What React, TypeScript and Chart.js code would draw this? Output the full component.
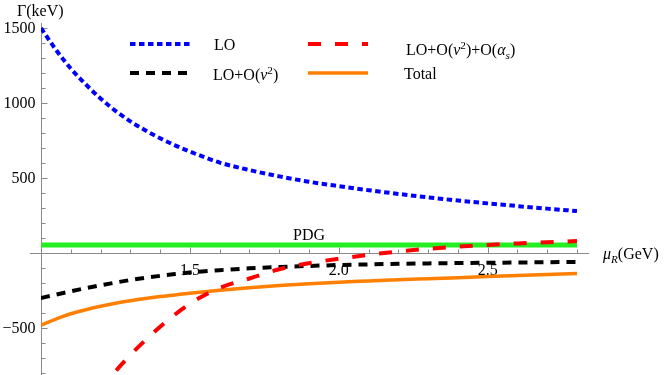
import React, { useEffect, useRef } from "react";
import { Chart, registerables } from "chart.js";
Chart.register(...registerables);

// renormalisation scale mu_R (GeV)
const muR = [1.0, 1.05, 1.1, 1.15, 1.2, 1.25, 1.3, 1.35, 1.4, 1.45, 1.5, 1.55, 1.6, 1.7, 1.8, 1.9, 2.0, 2.1, 2.2, 2.3, 2.4, 2.5, 2.6, 2.7, 2.8];
// Gamma (keV)
const lo = [1500, 1355, 1230, 1125, 1030, 948, 878, 818, 765, 718, 676, 638, 603, 553, 511, 475, 446, 419, 394, 371, 350, 331, 313, 296, 280];
const loV2 = [-300, -277, -255, -234, -215, -197, -180, -165, -152, -140, -130, -121, -114, -102, -93, -86, -80, -76, -72, -69, -67, -65, -63, -61, -60];
const loV2As = [null, null, null, null, -930, -790, -680, -582, -492, -410, -338, -280, -232, -170, -108, -68, -38, -12, 10, 28, 42, 54, 64, 72, 80];
const total = [-480, -440, -405, -378, -355, -335, -318, -303, -290, -279, -268, -258, -248, -231, -216, -204, -194, -186, -178, -171, -164, -157, -150, -143, -136];
const pdgValue = 54;
const pdgLabelAt = 1.9;

const xMin = 1.0;
const xMax = 2.8;
const yMin = -813;
const yMax = 1520;
const xTicks = [1.1, 1.2, 1.3, 1.4, 1.5, 1.6, 1.7, 1.8, 1.9, 2.0, 2.1, 2.2, 2.3, 2.4, 2.5, 2.6, 2.7, 2.8];
const xTickLabels = [1.5, 2.0, 2.5];
const yTicks = [-800, -700, -600, -500, -400, -300, -200, -100, 100, 200, 300, 400, 500, 600, 700, 800, 900, 1000, 1100, 1200, 1300, 1400, 1500];
const yTickLabels = [-500, 500, 1000, 1500];

type Run = { t: string; it?: boolean; sup?: boolean; sub?: boolean };
const legendLabels: Run[][] = [
  [{ t: "LO" }],
  [{ t: "LO+O(" }, { t: "v", it: true }, { t: "2", sup: true }, { t: ")" }],
  [{ t: "LO+O(" }, { t: "v", it: true }, { t: "2", sup: true }, { t: ")+O(" }, { t: "α", it: true }, { t: "s", it: true, sub: true }, { t: ")" }],
  [{ t: "Total" }],
];
const xTitle: Run[] = [{ t: "μ", it: true }, { t: "R", it: true, sub: true }, { t: "(GeV)" }];
const yTitle: Run[] = [{ t: "Γ(keV)" }];

const FONT = '"Liberation Serif", "Times New Roman", serif';

function drawRich(ctx: CanvasRenderingContext2D, x: number, y: number, runs: Run[], size: number) {
  let cx = x;
  for (const r of runs) {
    const s = r.sup || r.sub ? size * 0.7 : size;
    ctx.font = `${r.it ? "italic " : ""}${s}px ${FONT}`;
    const dy = r.sup ? -size * 0.4 : r.sub ? size * 0.25 : 0;
    ctx.fillText(r.t, cx, y + dy);
    cx += ctx.measureText(r.t).width;
  }
}

const near = (a: number, b: number) => Math.abs(a - b) < 1e-9;

const axesPlugin = {
  id: "mmaAxes",
  beforeDatasetsDraw(chart: any) {
    const { ctx, scales } = chart;
    const x = scales.x;
    const y = scales.y;
    const y0 = Math.round(y.getPixelForValue(0)) + 0.5;
    const x0 = Math.round(x.getPixelForValue(xMin)) + 0.5;
    ctx.save();
    ctx.strokeStyle = "#8a8a8a";
    ctx.lineWidth = 1;
    ctx.beginPath();
    ctx.moveTo(x.left - 11, y0);
    ctx.lineTo(x.right + 12, y0);
    ctx.moveTo(x0, y.top - 2);
    ctx.lineTo(x0, y.bottom);
    for (const v of xTicks) {
      const px = Math.round(x.getPixelForValue(v)) + 0.5;
      const len = xTickLabels.some((m) => near(m, v)) ? 6 : 4;
      ctx.moveTo(px, y0);
      ctx.lineTo(px, y0 - len);
    }
    for (const v of yTicks) {
      const py = Math.round(y.getPixelForValue(v)) + 0.5;
      const len = yTickLabels.some((m) => near(m, v)) ? 6 : 4;
      ctx.moveTo(x0, py);
      ctx.lineTo(x0 + len, py);
    }
    ctx.stroke();

    ctx.fillStyle = "#000";
    ctx.font = `16px ${FONT}`;
    ctx.textBaseline = "alphabetic";
    ctx.textAlign = "center";
    for (const v of xTickLabels) {
      ctx.fillText(v.toFixed(1), x.getPixelForValue(v), y0 + 21.5);
    }
    ctx.textAlign = "right";
    ctx.textBaseline = "middle";
    for (const v of yTickLabels) {
      ctx.fillText(v < 0 ? "\u2212" + Math.abs(v) : String(v), x0 - 6, y.getPixelForValue(v) + 1);
    }
    ctx.restore();
  },
  afterDatasetsDraw(chart: any) {
    const { ctx, scales } = chart;
    const x = scales.x;
    const y = scales.y;
    const ds = chart.data.datasets;
    ctx.save();
    ctx.fillStyle = "#000";
    ctx.textBaseline = "alphabetic";
    ctx.textAlign = "left";
    // axis titles
    drawRich(ctx, 17, 16, yTitle, 16);
    drawRich(ctx, 603, 259, xTitle, 16);
    // PDG label
    ctx.font = `16px ${FONT}`;
    ctx.textAlign = "center";
    ctx.fillText("PDG", x.getPixelForValue(pdgLabelAt), y.getPixelForValue(pdgValue) - 5);
    ctx.textAlign = "left";
    // legend (2x2)
    const cells = [
      { d: 0, lx: 130, ly: 44, tx: 214, ty: 50 },
      { d: 1, lx: 130, ly: 73, tx: 213, ty: 80 },
      { d: 2, lx: 308, ly: 44, tx: 406, ty: 55 },
      { d: 3, lx: 308, ly: 73, tx: 404, ty: 79 },
    ];
    for (const c of cells) {
      const d = ds[c.d];
      ctx.save();
      ctx.strokeStyle = d.borderColor;
      ctx.lineWidth = d.borderWidth;
      ctx.setLineDash(d.borderDash || []);
      ctx.lineCap = "butt";
      ctx.beginPath();
      ctx.moveTo(c.lx, c.ly);
      ctx.lineTo(c.lx + 60, c.ly);
      ctx.stroke();
      ctx.restore();
      drawRich(ctx, c.tx, c.ty, legendLabels[c.d], 16);
    }
    ctx.restore();
  },
};

export default function App() {
  const ref = useRef<HTMLCanvasElement>(null);
  useEffect(() => {
    const pts = (vals: (number | null)[]) => muR.map((m, i) => ({ x: m, y: vals[i] }));
    const common = { pointRadius: 0, fill: false, cubicInterpolationMode: "monotone" as const, spanGaps: false };
    const chart = new Chart(ref.current!, {
      type: "line",
      data: {
        datasets: [
          { label: "LO", data: pts(lo), borderColor: "#0000ff", borderWidth: 4, borderDash: [5.5, 3.5], order: 3, ...common },
          { label: "LO+O(v2)", data: pts(loV2), borderColor: "#000000", borderWidth: 4, borderDash: [9, 7], order: 2, ...common },
          { label: "LO+O(v2)+O(as)", data: pts(loV2As), borderColor: "#ff0000", borderWidth: 4, borderDash: [13, 14], order: 0, ...common },
          { label: "Total", data: pts(total), borderColor: "#ff8000", borderWidth: 3.5, order: 1, ...common },
          { label: "PDG", data: [{ x: xMin, y: pdgValue }, { x: xMax, y: pdgValue }], borderColor: "#22ee22", borderWidth: 5, order: 4, pointRadius: 0, fill: false },
        ] as any,
      },
      options: {
        animation: false,
        responsive: false,
        devicePixelRatio: 1,
        layout: { padding: { left: 41, right: 87, top: 25, bottom: 0 } },
        scales: {
          x: { type: "linear", min: xMin, max: xMax, display: false },
          y: { type: "linear", min: yMin, max: yMax, display: false },
        },
        plugins: { legend: { display: false }, tooltip: { enabled: false } },
      },
      plugins: [axesPlugin],
    });
    return () => chart.destroy();
  }, []);
  return (
    <div style={{ position: "absolute", left: 0, top: 0, width: 664, height: 375, background: "#fff" }}>
      <canvas ref={ref} width={664} height={375} style={{ display: "block" }} />
    </div>
  );
}
